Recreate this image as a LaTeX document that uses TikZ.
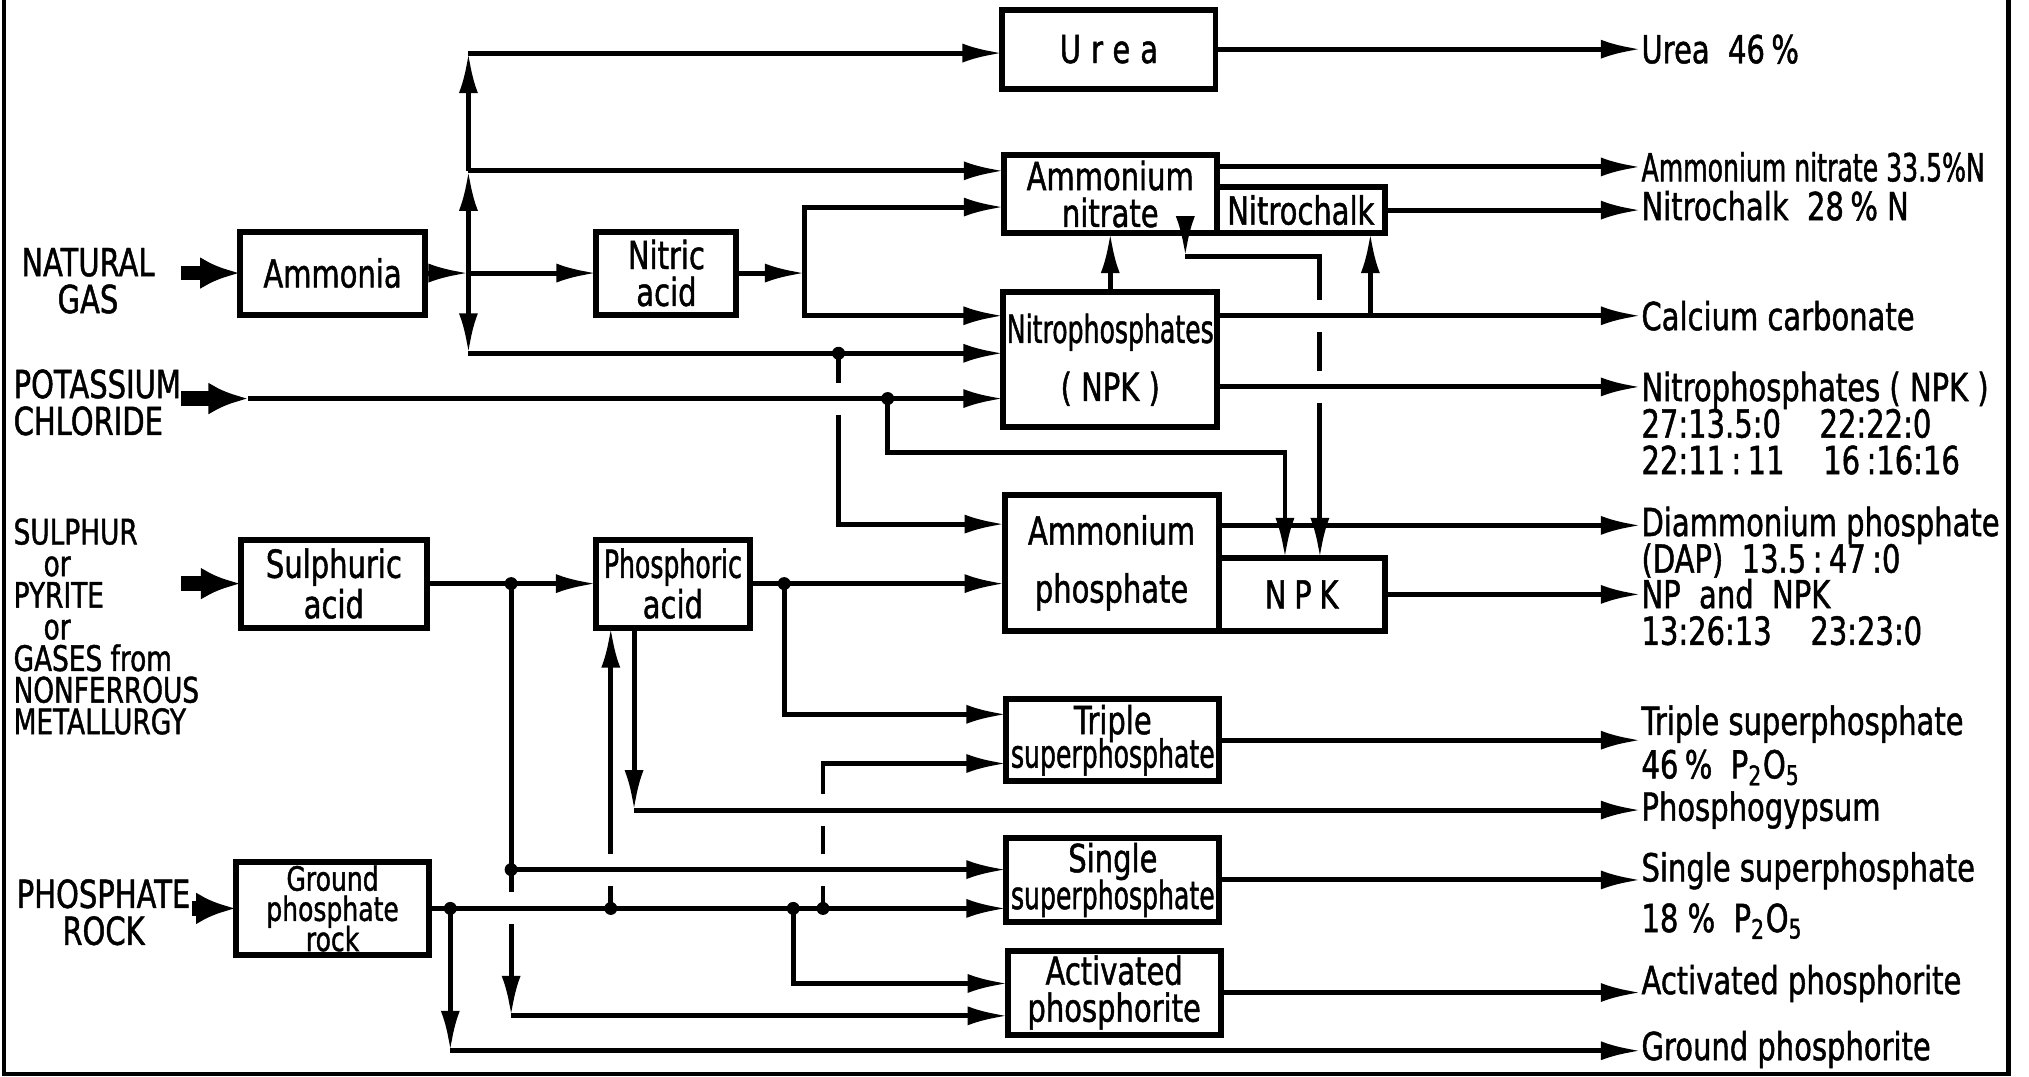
\documentclass[tikz,border=0pt]{standalone}
\usepackage{fontspec}
\setmainfont{DejaVu Sans}[FakeStretch=0.75, FakeBold=1.2]
\newfontfamily\narrowfont{DejaVu Sans}[FakeStretch=0.65, FakeBold=1.2]
\usetikzlibrary{arrows.meta,positioning}
\tikzset{
  procbox/.style={draw, line width=1.7pt, outer sep=0pt, minimum width=21.3mm, minimum height=8.2mm,
    align=center, inner sep=1pt, font={\fontsize{11}{10.5}\selectfont\lineskiplimit=-20pt\relax}},
  flow/.style={-{Latex[length=4mm,width=1.9mm]}, line width=1.4pt},
  pipe/.style={line width=1.4pt},
  feed/.style={-{Latex[length=4mm,width=3.2mm]}, line width=4.2pt},
  srclabel/.style={align=center, inner sep=0pt, font={\fontsize{11}{10.5}\selectfont\lineskiplimit=-20pt\relax}},
  prodlabel/.style={anchor=west, align=left, inner sep=0pt, font={\fontsize{11}{10.4}\selectfont\lineskiplimit=-20pt\relax}},
  gapin/.style={shorten <=1.6mm},
  gapout/.style={shorten >=1.6mm}
}

\begin{document}
\begin{tikzpicture}[x=0.1294mm, y=-0.1294mm]
\useasboundingbox (0,0) rectangle (1568,832);
\draw[line width=1.3pt] (3,0) |- (1552,830) -- (1552,0);

\node[procbox, minimum height=7.9mm] (urea) at (857,38) {\addfontfeature{LetterSpace=26}Urea};
\node[procbox, minimum height=7.8mm] (an) at (858,150) {Ammonium\\nitrate};
\node[procbox, anchor=south west, minimum width=16.8mm, minimum height=4.6mm] (nchalk) at (an.south east) {Nitrochalk};
\node[procbox, minimum height=13.5mm] (np) at (858,278) {\narrowfont Nitrophosphates\\[6pt]( NPK )};
\node[procbox, minimum width=21.4mm, minimum height=13.6mm] (ap) at (859,435) {Ammonium\\[6pt]phosphate};
\node[procbox, anchor=south west, minimum width=16.6mm, minimum height=7.3mm] (npk) at (ap.south east) {\addfontfeature{LetterSpace=20}NPK};
\node[procbox] (tsp) at (860,572) {Triple\\[-1pt]\narrowfont superphosphate};
\node[procbox, minimum height=8.4mm] (ssp) at (860,680) {Single\\\narrowfont superphosphate};
\node[procbox, minimum height=8.4mm] (act) at (861,767) {Activated\\phosphorite};
\node[procbox, minimum width=18.5mm, minimum height=8.3mm] (ammonia) at (257,211) {Ammonia};
\node[procbox, minimum width=14mm, minimum height=8.3mm] (nitric) at (515,211) {Nitric\\acid};
\node[procbox, minimum width=18.6mm, minimum height=8.8mm] (sulph) at (258,451) {Sulphuric\\[1pt]acid};
\node[procbox, minimum width=15.4mm, minimum height=8.8mm] (phos) at (520,451) {\narrowfont Phosphoric\\[1pt]acid};
\node[procbox, minimum width=19.3mm, minimum height=9.1mm,
      font={\fontsize{9.5}{8.6}\selectfont\lineskiplimit=-20pt\relax}] (rock) at (257,702) {Ground\\phosphate\\rock};

\node[srclabel] (gas) at (68,217) {NATURAL\\GAS};
\node[srclabel, align=left, anchor=west] (kcl) at (10,311) {POTASSIUM\\CHLORIDE};
\node[srclabel, align=left, anchor=north west,
      font={\fontsize{10}{9}\selectfont\lineskiplimit=-20pt\relax}] (sulphsrc) at (10,400)
  {SULPHUR\\\hspace*{3mm}or\\PYRITE\\\hspace*{3mm}or\\GASES from\\NONFERROUS\\METALLURGY};
\node[srclabel] (rocksrc) at (80,705) {PHOSPHATE\\ROCK};

\node[prodlabel] (urealbl) at (1268,38) {Urea\ \ 46\,\%};
\node[prodlabel] (anlbl) at (1268,129) {\narrowfont Ammonium nitrate 33.5\%N};
\node[prodlabel] (nclbl) at (1268,159) {Nitrochalk\ \ 28\,\% N};
\node[prodlabel] (cacolbl) at (1268,244) {Calcium carbonate};
\node[prodlabel] (nplbl) at (1268,327) {Nitrophosphates ( NPK )\\27:13.5:0\quad 22:22:0\\22:11\,:\,11\quad 16\,:16:16};
\node[prodlabel] (daplbl) at (1268,419) {Diammonium phosphate\\(DAP)\ \ 13.5\,:\,47\,:0};
\node[prodlabel] (npklbl) at (1268,473) {NP\ \ and\ \ NPK\\13:26:13\quad 23:23:0};
\node[prodlabel] (tsplbl) at (1268,576) {Triple superphosphate\\[2pt]46\,\%\ \ P\textsubscript{2}O\textsubscript{5}};
\node[prodlabel] (gypslbl) at (1268,626) {Phosphogypsum};
\node[prodlabel] (ssplbl) at (1268,692) {Single superphosphate\\[4pt]18 \%\ \ P\textsubscript{2}O\textsubscript{5}};
\node[prodlabel] (actlbl) at (1268,760) {Activated phosphorite};
\node[prodlabel] (gplbl) at (1268,811) {Ground phosphorite};

\coordinate (gasin) at (140,211);
\coordinate (amjn) at (362,211);
\coordinate (anjn) at (362,132);
\coordinate (bustop) at (362,41);
\coordinate (busbot) at (362,273);
\coordinate (nitjn) at (622,211);
\coordinate (nitup) at (622,160);
\coordinate (nitdn) at (622,244);
\coordinate (kin) at (140,308);
\coordinate (kfeed) at (192,308);
\coordinate (npdot) at (648,273);
\coordinate (kdot) at (686,308);
\coordinate (apup) at (648,405);
\coordinate (npkin1) at (993,350);
\coordinate (anlow) at (916,198);
\coordinate (npkin2) at (1020,198);
\coordinate (nplvl) at (1268,299);
\coordinate (daplvl) at (1268,406);
\coordinate (ncdot) at (1059,244);
\coordinate (sin) at (140,451);
\coordinate (sdot) at (395,451);
\coordinate (sdot2) at (395,672);
\coordinate (sacorner) at (395,785);
\coordinate (pdot) at (606,451);
\coordinate (tspup) at (606,552);
\coordinate (gyps) at (490,626);
\coordinate (rin) at (148,702);
\coordinate (rdot1) at (348,702);
\coordinate (rdot2) at (472,702);
\coordinate (rdot3) at (613,702);
\coordinate (rdot4) at (636,702);
\coordinate (tsplow) at (636,590);
\coordinate (actup) at (613,760);
\coordinate (gpcorner) at (348,812);

\draw[feed] (gasin) -- (ammonia.west);
\draw[flow] (ammonia.east) -- (amjn);
\draw[flow] (amjn) -- (nitric.west);
\draw[flow] (amjn) -- (anjn);
\draw[flow] (anjn) -- (bustop);
\draw[flow] (bustop) -- (urea.west |- bustop);
\draw[flow] (anjn) -- (an.west |- anjn);
\draw[flow] (amjn) -- (busbot);
\draw[flow] (busbot) -- (np.west |- busbot);
\draw[flow] (nitric.east) -- (nitjn);
\draw[flow] (nitjn) |- (an.west |- nitup);
\draw[flow] (nitjn) |- (np.west |- nitdn);

\draw[feed] (kin) -- (kfeed);
\draw[flow] (kfeed) -- (np.west |- kfeed);
\draw[pipe, gapout] (npdot) -- (npdot |- kfeed);
\draw[flow, gapin] (npdot |- kfeed) |- (ap.west |- apup);
\draw[pipe, gapout] (kdot) |- (npkin1) -- (npkin1 |- daplvl);
\draw[flow, gapin] (npkin1 |- daplvl) -- (npkin1 |- npk.north);

\draw[flow] (anlow |- an.south) -- (anlow);
\draw[pipe, gapout] (anlow) -- (npkin2) -- (npkin2 |- cacolbl);
\draw[pipe, gapin, gapout] (npkin2 |- cacolbl) -- (npkin2 |- nplvl);
\draw[pipe, gapin, gapout] (npkin2 |- nplvl) -- (npkin2 |- daplvl);
\draw[flow, gapin] (npkin2 |- daplvl) -- (npkin2 |- npk.north);
\draw[flow] (np.north) -- (an.south);

\draw[flow] (urea.east) -- (urealbl.west);
\draw[flow] (an.east |- anlbl) -- (anlbl.west);
\draw[flow] (nchalk.east) -- (nclbl.west |- nchalk.east);
\draw[flow] (np.east |- cacolbl) -- (cacolbl.west);
\draw[flow] (ncdot) -- (ncdot |- nchalk.south);
\draw[flow] (np.east |- nplvl) -- (nplbl.west |- nplvl);
\draw[flow] (ap.east |- daplvl) -- (daplbl.west |- daplvl);
\draw[flow] (npk.east) -- (npklbl.west |- npk.east);
\draw[flow] (tsp.east) -- (tsplbl.west |- tsp.east);
\draw[flow] (ssp.east) -- (ssplbl.west |- ssp.east);
\draw[flow] (act.east) -- (actlbl.west |- act.east);

\draw[feed] (sin) -- (sulph.west);
\draw[flow] (sulph.east) -- (phos.west);
\draw[flow] (phos.east) -- (ap.west |- phos.east);
\draw[flow] (pdot) |- (tsp.west |- tspup);
\draw[flow] (gyps |- phos.south) -- (gyps);
\draw[flow] (gyps) -- (gypslbl.west);
\draw[pipe] (sdot) -- (sdot2);
\draw[flow] (sdot2) -- (ssp.west |- sdot2);
\draw[pipe, gapout] (sdot2) -- (sdot2 |- rock);
\draw[flow, gapin] (sdot2 |- rock) -- (sacorner);
\draw[flow] (sacorner) -- (act.west |- sacorner);

\draw[feed] (rin) -- (rock.west);
\draw[flow] (rock.east) -- (ssp.west |- rock);
\draw[flow] (rdot1) -- (gpcorner);
\draw[flow] (gpcorner) -- (gplbl.west |- gpcorner);
\draw[pipe, gapout] (rdot2) -- (rdot2 |- sdot2);
\draw[flow, gapin] (rdot2 |- sdot2) -- (rdot2 |- phos.south);
\draw[flow] (rdot3) |- (act.west |- actup);
\draw[pipe, gapout] (rdot4) -- (rdot4 |- sdot2);
\draw[pipe, gapin, gapout] (rdot4 |- sdot2) -- (rdot4 |- gyps);
\draw[flow, gapin] (rdot4 |- gyps) |- (tsp.west |- tsplow);

\foreach \j in {npdot,kdot,pdot,sdot,sdot2,rdot1,rdot2,rdot3,rdot4}
  \fill (\j) circle[radius=0.65mm];
\end{tikzpicture}
\end{document}
